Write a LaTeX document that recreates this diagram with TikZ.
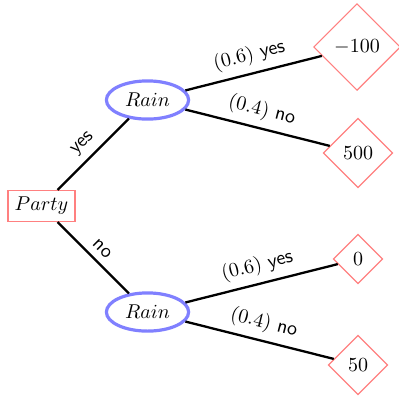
\documentclass[tikz,border=0pt]{standalone}
\usetikzlibrary{shapes.geometric}
\begin{document}
\begin{tikzpicture}[x=0.5pt,y=-0.5pt,
  decision/.style={draw=red!50, rectangle, line width=0.6pt},
  chance/.style={draw=blue!50, ellipse, ultra thick},
  outcome/.style={draw=red!50, diamond, line width=0.6pt},
  branch/.style={line width=1.15pt},
  lbl/.style={sloped, above, midway}]
\useasboundingbox (0,0) rectangle (399,398);
\node[decision] (party) at (41.5,206) {$Party$};
\node[chance] (r1) at (147.5,100) {$Rain$};
\node[chance] (r2) at (147.5,312) {$Rain$};
\node[outcome] (l1) at (357,47) {$-100$};
\node[outcome] (l2) at (358,153) {$500$};
\node[outcome] (l3) at (358,259) {$0$};
\node[outcome] (l4) at (358,365) {$50$};
\draw[branch] (party) -- node[lbl] {\textsf{yes}} (r1);
\draw[branch] (party) -- node[lbl] {\textsf{no}} (r2);
\draw[branch] (r1) -- node[lbl] {$(0.6)$ \textsf{yes}} (l1);
\draw[branch] (r1) -- node[lbl] {$(0.4)$ \textsf{no}} (l2);
\draw[branch] (r2) -- node[lbl] {$(0.6)$ \textsf{yes}} (l3);
\draw[branch] (r2) -- node[lbl] {$(0.4)$ \textsf{no}} (l4);
\end{tikzpicture}
\end{document}
